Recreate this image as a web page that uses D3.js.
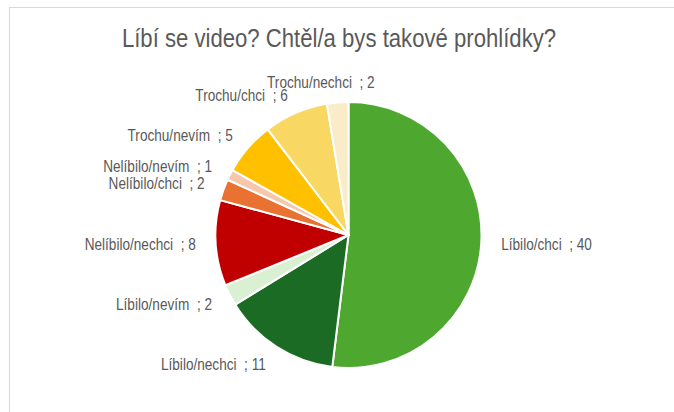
<!DOCTYPE html>
<html><head><meta charset="utf-8">
<script src="https://cdn.jsdelivr.net/npm/d3@7"></script>
<style>
html,body{margin:0;padding:0;background:#fff;}
svg{display:block;}
</style></head>
<body>
<svg id="c" width="674" height="412"></svg>
<script>
const title = "Líbí se video? Chtěl/a bys takové prohlídky?";
const categories = ["Líbilo/chci","Líbilo/nechci","Líbilo/nevím","Nelíbilo/nechci","Nelíbilo/chci","Nelíbilo/nevím","Trochu/nevím","Trochu/chci","Trochu/nechci"];
const values = [40,11,2,8,2,1,5,6,2];
const colors = ["#4EA72E","#1B6B24","#DAF0D3","#C00000","#E97132","#F7C7AC","#FFC000","#F8D863","#FAEBC9"];

const W = 674, H = 412;
const svg = d3.select("#c");
svg.append("rect").attr("x",9.5).attr("y",7.5).attr("width",W+20).attr("height",H+20)
  .attr("fill","#fff").attr("stroke","#d9d9d9").attr("stroke-width",1);

const font = "'Liberation Sans Narrow','Arial Narrow','Liberation Sans',sans-serif";
function condense(k){
  return sel => sel.each(function(){
    const len = this.getComputedTextLength();
    d3.select(this).attr("textLength", len*k).attr("lengthAdjust","spacingAndGlyphs");
  });
}
svg.append("text").attr("x",339).attr("y",47).attr("text-anchor","middle")
  .attr("font-family",font).attr("font-size",25).attr("fill","#595959").text(title)
  .call(condense(0.885));

const cx = 348.5, cy = 235, r = 133;
const data = categories.map((c,i)=>({name:c,value:values[i],color:colors[i]}));
const pie = d3.pie().value(d=>d.value).sort(null).startAngle(0).endAngle(2*Math.PI);
const arcs = pie(data);
const arc = d3.arc().innerRadius(0).outerRadius(r);
const g = svg.append("g").attr("transform",`translate(${cx},${cy})`);
g.selectAll("path").data(arcs).join("path")
  .attr("d",arc).attr("fill",d=>d.data.color)
  .attr("stroke","#fff").attr("stroke-width",2).attr("stroke-linejoin","round");

const lr = r + 20;
arcs.forEach(a=>{
  const m = (a.startAngle+a.endAngle)/2;
  const s = Math.sin(m), c = Math.cos(m);
  let x = lr*s, y = -lr*c;
  let anchor = s >= 0 ? "start" : "end";
  if (Math.abs(s) < 0.15) { anchor = "middle"; x += s*r*1.4; }
  g.append("text").attr("x",x).attr("y",y).attr("dy","0.35em")
    .attr("text-anchor",anchor).attr("font-family",font).attr("font-size",17)
    .attr("fill","#595959").style("white-space","pre")
    .text(a.data.name + "  ; " + a.data.value)
    .call(condense(0.8));
});
</script>
</body></html>
